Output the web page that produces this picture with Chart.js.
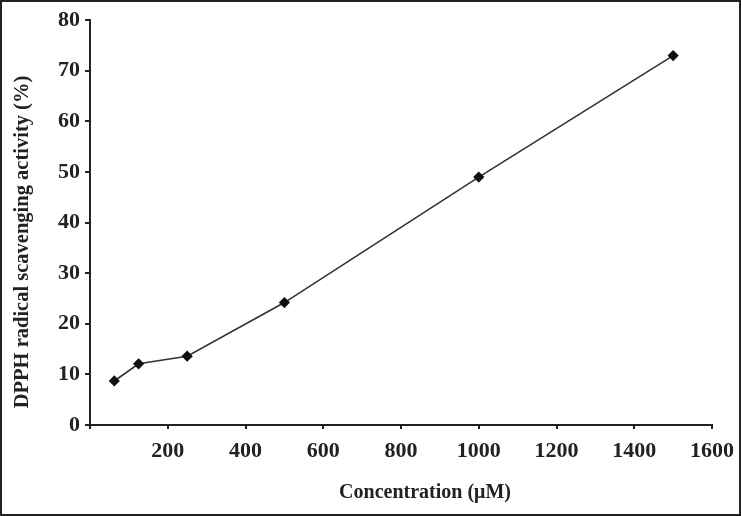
<!DOCTYPE html>
<html>
<head>
<meta charset="utf-8">
<script src="https://cdn.jsdelivr.net/npm/chart.js@4"></script>
<style>
  html, body { margin: 0; padding: 0; background: #fff; }
  #box { width: 741px; height: 516px; box-sizing: border-box; border: 2px solid #222; position: relative; }
  #box canvas { display: block; }
</style>
</head>
<body>
<div id="box"><canvas id="myChart" width="737" height="512"></canvas></div>
<script>
// concentration (uM) and DPPH scavenging (%)
const concentration = [62.5, 125, 250, 500, 1000, 1500];
const scavenging = [8.7, 12.1, 13.6, 24.2, 49.0, 73.0];

const xTitle = 'Concentration (μM)';
const yTitle = 'DPPH radical scavenging activity (%)';

const serif = 'Liberation Serif, Times New Roman, serif';

// axis titles sit a bit off-centre in the original, so draw them by hand
const axisTitles = {
  id: 'axisTitles',
  afterDraw(chart) {
    const c = chart.ctx;
    c.save();
    c.fillStyle = '#222';
    c.textAlign = 'center';
    c.textBaseline = 'middle';
    c.font = 'bold 20px ' + serif;
    c.fillText(xTitle, 423, 491);
    c.translate(21, 240);
    c.rotate(-Math.PI / 2);
    c.font = 'bold 20.5px ' + serif;
    c.fillText(yTitle, 0, 0);
    c.restore();
  }
};

const ctx = document.getElementById('myChart');

new Chart(ctx, {
  type: 'scatter',
  data: {
    datasets: [{
      label: 'DPPH',
      data: concentration.map((c, i) => ({ x: c, y: scavenging[i] })),
      showLine: true,
      borderColor: '#333',
      borderWidth: 1.6,
      pointStyle: 'rectRot',
      pointRadius: 4.5,
      pointBackgroundColor: '#111',
      pointBorderColor: '#111',
      tension: 0
    }]
  },
  plugins: [axisTitles],
  options: {
    responsive: false,
    animation: false,
    layout: { padding: { top: 18, right: 27, left: 0, bottom: 0 } },
    plugins: {
      legend: { display: false },
      tooltip: { enabled: false }
    },
    scales: {
      x: {
        type: 'linear',
        min: 0,
        max: 1600,
        afterFit: (scale) => { scale.height = 89; scale.paddingRight = 0; },
        ticks: {
          stepSize: 200,
          color: '#222',
          padding: 9,
          maxRotation: 0,
          font: { family: serif, size: 22, weight: 'bold' },
          callback: (v) => v === 0 ? '' : v
        },
        grid: { drawOnChartArea: false, drawTicks: true, tickLength: 4, color: '#222', lineWidth: 2 },
        border: { display: true, color: '#222', width: 2 }
      },
      y: {
        min: 0,
        max: 80,
        afterFit: (scale) => { scale.width = 88; },
        ticks: {
          stepSize: 10,
          color: '#222',
          padding: 5,
          font: { family: serif, size: 22, weight: 'bold' }
        },
        grid: { drawOnChartArea: false, drawTicks: true, tickLength: 5, color: '#222', lineWidth: 2 },
        border: { display: true, color: '#222', width: 2 }
      }
    }
  }
});
</script>
</body>
</html>
